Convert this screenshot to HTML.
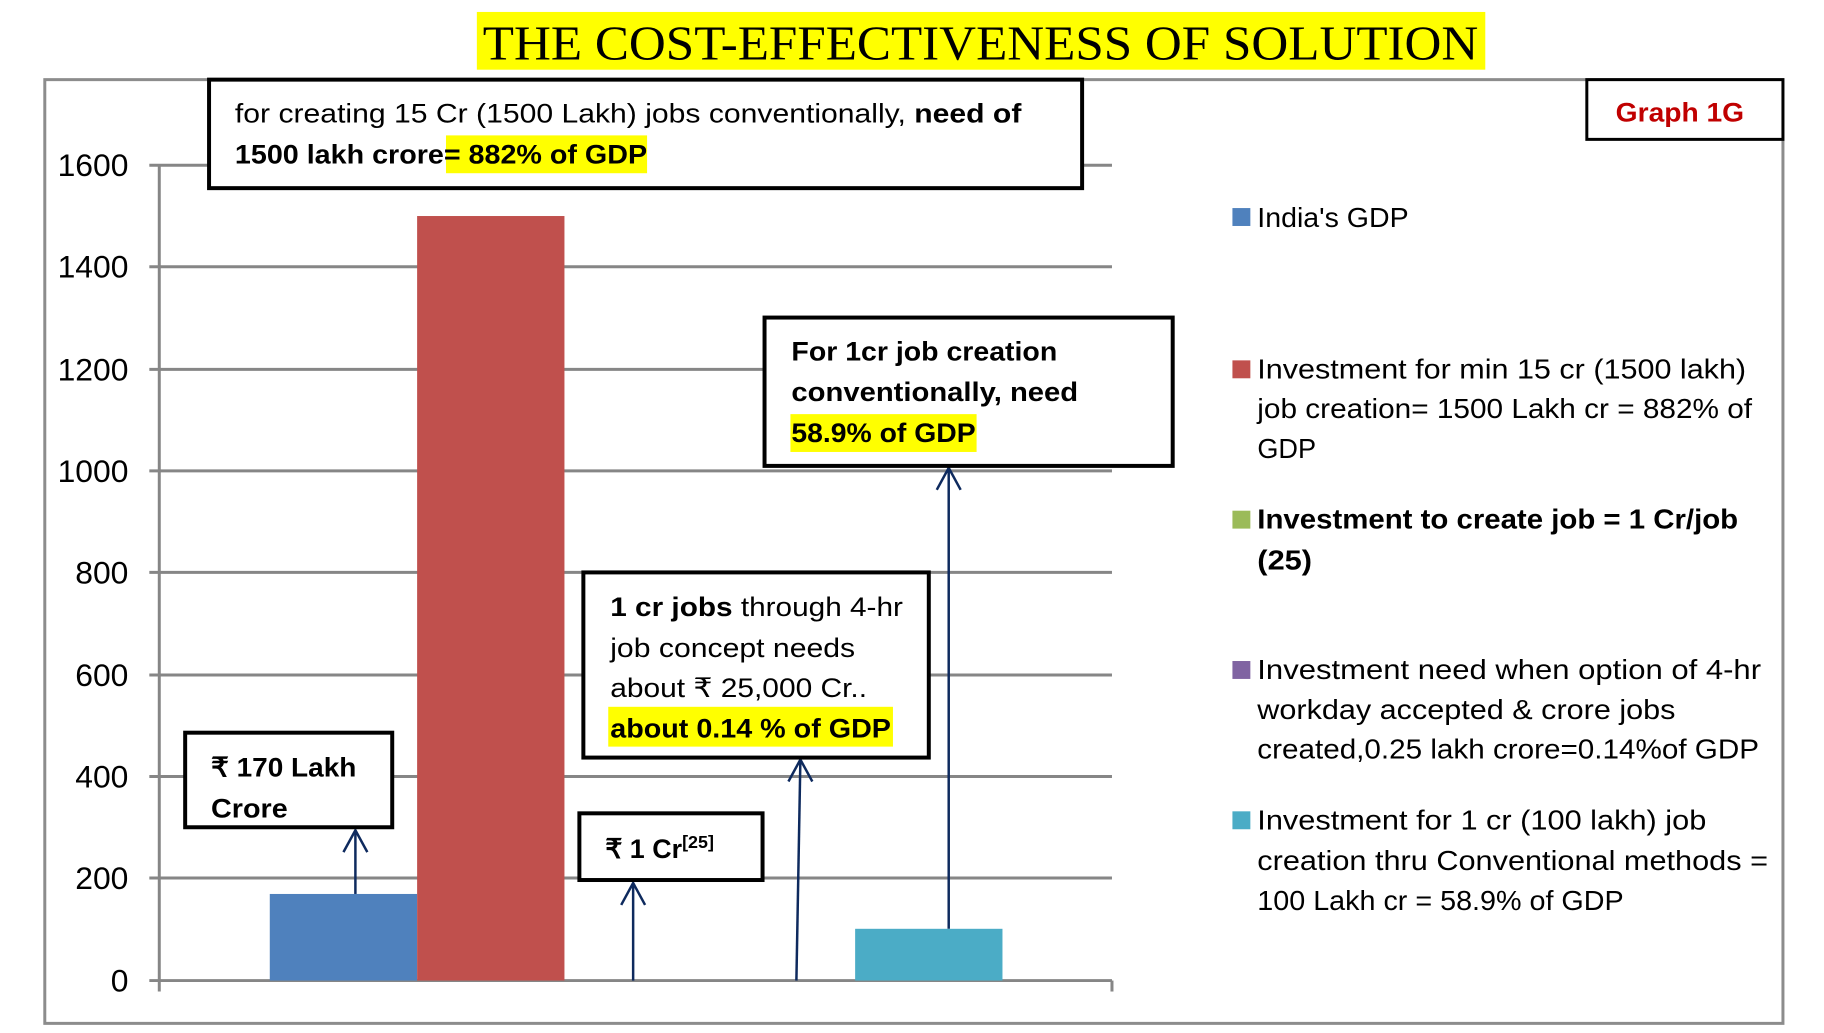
<!DOCTYPE html>
<html><head><meta charset="utf-8"><style>
html,body{margin:0;padding:0;background:#fff}
svg{display:block}
text{font-family:"Liberation Sans",sans-serif}
</style></head><body>
<svg width="1824" height="1033" viewBox="0 0 1824 1033" xmlns="http://www.w3.org/2000/svg">
<g transform="scale(0.9955)">
<rect x="479" y="12" width="1013" height="58" fill="#ffff00"/>
<text x="985" y="60" text-anchor="middle" style="font-family:'Liberation Serif',serif" font-size="49" textLength="1000" lengthAdjust="spacingAndGlyphs">THE COST-EFFECTIVENESS OF SOLUTION</text>
<rect x="45" y="80" width="1746" height="948" fill="none" stroke="#8c8c8c" stroke-width="3"/>
<g stroke="#868686" stroke-width="3">
<line x1="150" y1="166" x2="1117" y2="166"/>
<line x1="150" y1="268" x2="1117" y2="268"/>
<line x1="150" y1="371" x2="1117" y2="371"/>
<line x1="150" y1="473" x2="1117" y2="473"/>
<line x1="150" y1="575" x2="1117" y2="575"/>
<line x1="150" y1="678" x2="1117" y2="678"/>
<line x1="150" y1="780" x2="1117" y2="780"/>
<line x1="150" y1="882" x2="1117" y2="882"/>
<line x1="150" y1="985" x2="1117" y2="985"/>
<line x1="160" y1="166" x2="160" y2="996"/>
<line x1="1117" y1="985" x2="1117" y2="996"/>
</g>
<g font-size="32" text-anchor="end">
<text x="129" y="177">1600</text><text x="129" y="279">1400</text><text x="129" y="382">1200</text>
<text x="129" y="484">1000</text><text x="129" y="586">800</text><text x="129" y="689">600</text>
<text x="129" y="791">400</text><text x="129" y="893">200</text><text x="129" y="996">0</text>
</g>
<rect x="271" y="898" width="148" height="87" fill="#4f81bd"/>
<rect x="419" y="217" width="148" height="768" fill="#c0504d"/>
<rect x="859" y="933" width="148" height="52" fill="#4bacc6"/>
<g stroke="#0e2a5e" stroke-width="2.5" fill="none">
<line x1="357" y1="898" x2="357" y2="834"/><polyline points="345,856 357,834 369,856"/>
<line x1="636" y1="985" x2="636" y2="887"/><polyline points="624,909 636,887 648,909"/>
<line x1="800" y1="985" x2="804" y2="763"/><polyline points="792,785 804,763 816,785"/>
<line x1="953" y1="933" x2="953" y2="470"/><polyline points="941,492 953,470 965,492"/>
</g>
<g fill="#fff" stroke="#000" stroke-width="4">
<rect x="210" y="80" width="877" height="109"/>
<rect x="1594" y="80" width="197" height="60" stroke-width="3"/>
<rect x="768" y="319" width="410" height="149"/>
<rect x="586" y="575" width="347" height="186"/>
<rect x="186" y="736" width="208" height="95"/>
<rect x="582" y="817" width="184" height="67"/>
</g>
<g font-size="27">
<text x="236" y="123" textLength="790" lengthAdjust="spacingAndGlyphs">for creating 15 Cr (1500 Lakh) jobs conventionally, <tspan font-weight="bold">need of</tspan></text>
<rect x="448" y="136" width="202" height="38" fill="#ffff00"/>
<text x="236" y="164" font-weight="bold" textLength="414" lengthAdjust="spacingAndGlyphs">1500 lakh crore= 882% of GDP</text>
<text x="1623" y="122" font-weight="bold" fill="#c00000" textLength="129" lengthAdjust="spacingAndGlyphs">Graph 1G</text>
<g font-weight="bold"><text x="795" y="362" textLength="267" lengthAdjust="spacingAndGlyphs">For 1cr job creation</text><text x="795" y="403" textLength="288" lengthAdjust="spacingAndGlyphs">conventionally, need</text>
<rect x="794" y="416" width="187" height="38" fill="#ffff00"/><text x="795" y="444" textLength="185" lengthAdjust="spacingAndGlyphs">58.9% of GDP</text></g>
<text x="613" y="619" textLength="294" lengthAdjust="spacingAndGlyphs"><tspan font-weight="bold">1 cr jobs</tspan> through 4-hr</text>
<text x="613" y="660" textLength="246" lengthAdjust="spacingAndGlyphs">job concept needs</text>
<text x="613" y="700" textLength="258" lengthAdjust="spacingAndGlyphs">about ₹ 25,000 Cr..</text>
<rect x="611" y="710" width="286" height="40" fill="#ffff00"/>
<text x="613" y="741" font-weight="bold" textLength="282" lengthAdjust="spacingAndGlyphs">about 0.14 % of GDP</text>
<g font-weight="bold"><text x="212" y="780" textLength="146" lengthAdjust="spacingAndGlyphs">₹ 170 Lakh</text><text x="212" y="821" textLength="77" lengthAdjust="spacingAndGlyphs">Crore</text>
<text x="608" y="862">₹ 1 Cr<tspan font-size="18" dy="-10">[25]</tspan></text></g>
</g>
<rect x="1238" y="209" width="18" height="18" fill="#4f81bd"/>
<rect x="1238" y="362" width="18" height="18" fill="#c0504d"/>
<rect x="1238" y="513" width="18" height="18" fill="#9bbb59"/>
<rect x="1238" y="664" width="18" height="18" fill="#8064a2"/>
<rect x="1238" y="815" width="18" height="18" fill="#4bacc6"/>
<g font-size="28" lengthAdjust="spacingAndGlyphs">
<text x="1263" y="228" textLength="152" lengthAdjust="spacingAndGlyphs">India's GDP</text>
<text x="1263" y="380" textLength="491" lengthAdjust="spacingAndGlyphs">Investment for min 15 cr (1500 lakh)</text>
<text x="1263" y="420" textLength="497" lengthAdjust="spacingAndGlyphs">job creation= 1500 Lakh cr = 882% of</text>
<text x="1263" y="460" textLength="59" lengthAdjust="spacingAndGlyphs">GDP</text>
<text x="1263" y="531" font-weight="bold" textLength="483" lengthAdjust="spacingAndGlyphs">Investment to create job = 1 Cr/job</text>
<text x="1263" y="572" font-weight="bold" textLength="55" lengthAdjust="spacingAndGlyphs">(25)</text>
<text x="1263" y="682" textLength="506" lengthAdjust="spacingAndGlyphs">Investment need when option of 4-hr</text>
<text x="1263" y="722" textLength="420" lengthAdjust="spacingAndGlyphs">workday accepted &amp; crore jobs</text>
<text x="1263" y="762" textLength="504" lengthAdjust="spacingAndGlyphs">created,0.25 lakh crore=0.14%of GDP</text>
<text x="1263" y="833" textLength="451" lengthAdjust="spacingAndGlyphs">Investment for 1 cr (100 lakh) job</text>
<text x="1263" y="874" textLength="513" lengthAdjust="spacingAndGlyphs">creation thru Conventional methods =</text>
<text x="1263" y="914" textLength="368" lengthAdjust="spacingAndGlyphs">100 Lakh cr = 58.9% of GDP</text>
</g>
</g>
</svg>
</body></html>
